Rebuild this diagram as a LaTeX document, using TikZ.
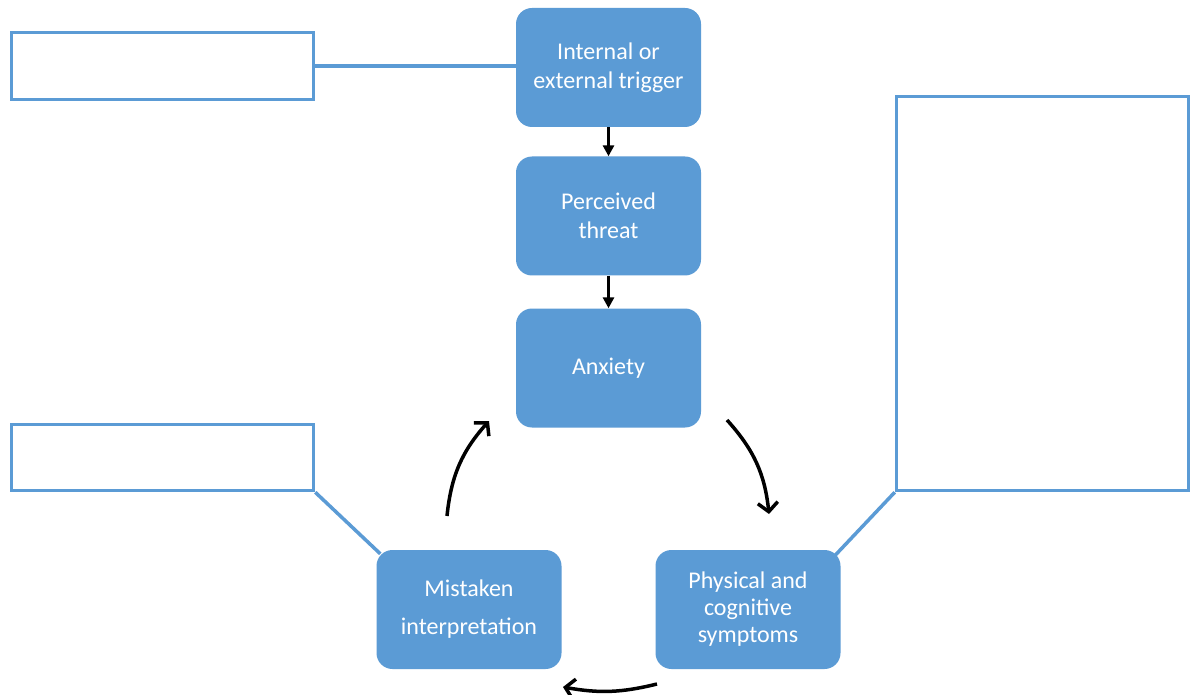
\documentclass[tikz,border=0pt]{standalone}
\usepackage{fontspec}
\setmainfont{Carlito}
\usetikzlibrary{arrows.meta, backgrounds}
\definecolor{stageBlue}{HTML}{5B9BD5}

\begin{document}
\begin{tikzpicture}[x=1pt, y=-1pt,
    stagebox/.style={fill=stageBlue, rounded corners=16pt, minimum width=185pt,
      minimum height=119pt, align=center, text=white, font=\fontsize{24}{29}\selectfont},
    notebox/.style={draw=stageBlue, line width=3.5pt, inner sep=0pt},
    link/.style={draw=stageBlue, line width=3.5pt},
    flow/.style={line width=3.5pt, -{Triangle[length=11pt, width=11pt]}},
    cycle/.style={line width=3.5pt, -{Straight Barb[length=9pt, width=20pt, line width=3.5pt]}}]
  \useasboundingbox (0,0) rectangle (1192,695);

  \node[stagebox] (trigger) at (608.5,67.5) {Internal or\\external trigger};
  \node[stagebox] (threat) at (608.5,216) {Perceived\\threat};
  \node[stagebox] (anxiety) at (608.5,368) {Anxiety};
  \node[stagebox, font=\fontsize{24}{27}\selectfont] (symptoms) at (748,609.5) {Physical and\\cognitive\\symptoms};
  \node[stagebox] (mistaken) at (469,609.5) {Mistaken\\[9pt]interpretation};

  \node[notebox, minimum width=302pt, minimum height=67pt] (noteA) at (162.5,66) {};
  \node[notebox, minimum width=302pt, minimum height=66pt] (noteB) at (162.5,457.5) {};
  \node[notebox, minimum width=292pt, minimum height=394pt] (noteC) at (1042.5,293.5) {};

  \begin{scope}[on background layer]
    \fill[white] (0,0) rectangle (1192,695);
    \draw[link] (noteA.east) -- (noteA.east -| trigger.west);
    \draw[link] (noteB.south east) -- ([shift={(4,4)}]mistaken.north west);
    \draw[link] (noteC.south west) -- ([shift={(-6,6)}]symptoms.north east);
  \end{scope}

  \draw[flow] (trigger) -- (threat);
  \draw[flow] (threat) -- (anxiety);

  % loop round the three lower stages
  \coordinate (c1) at (727,420);
  \coordinate (c2) at (769,514);
  \coordinate (c3) at (657,684);
  \coordinate (c4) at (563,687);
  \coordinate (c5) at (447,516);
  \coordinate (c6) at (489,421);
  \draw[cycle] (c1) to[bend left=18] (c2);
  \draw[cycle] (c3) to[bend left=12] (c4);
  \draw[cycle] (c5) to[bend left=18] (c6);
\end{tikzpicture}
\end{document}
